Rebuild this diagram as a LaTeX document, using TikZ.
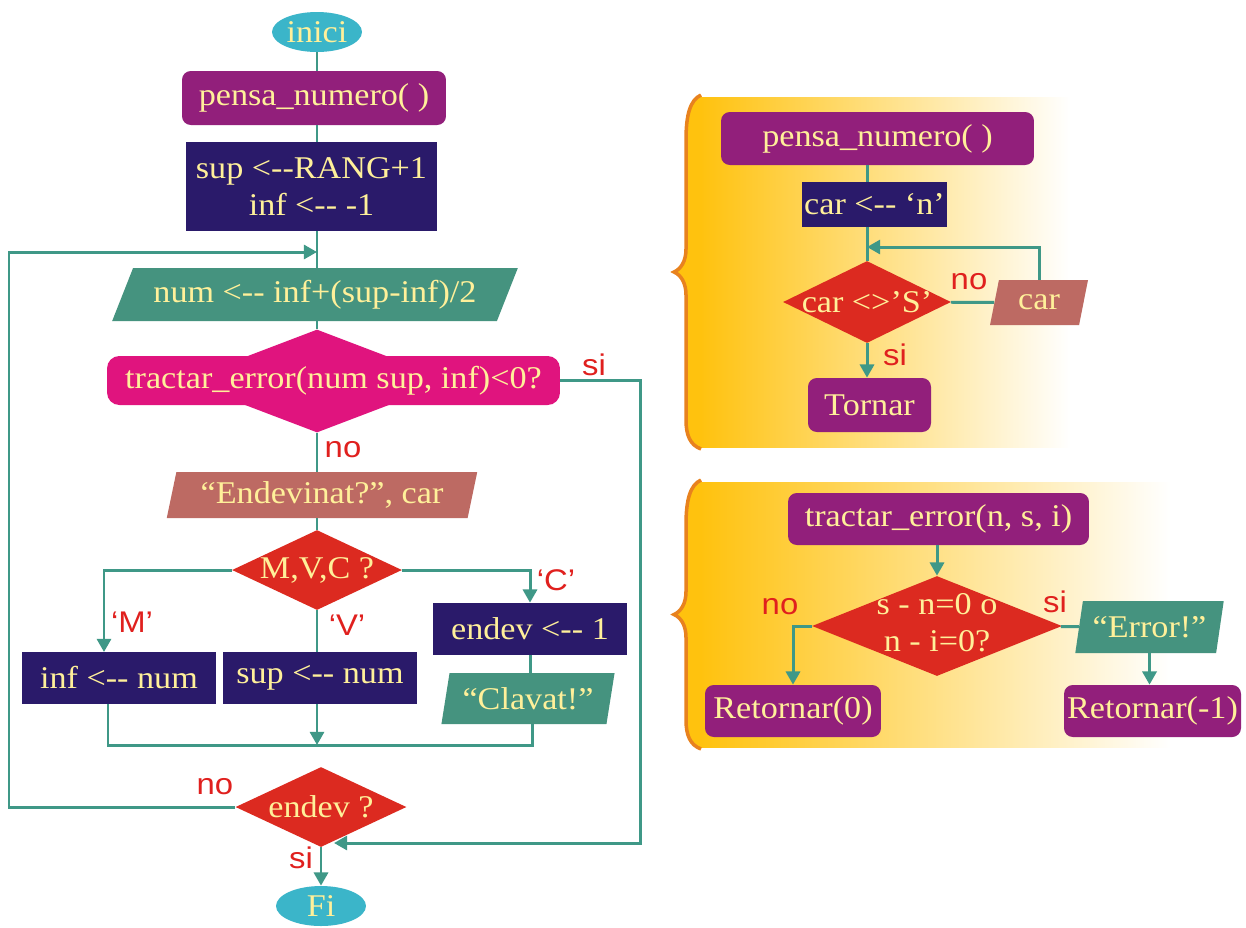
\documentclass[tikz,border=0pt]{standalone}
\usepackage{fontspec}
\setmainfont{Liberation Serif}[FakeStretch=1.08]
\newfontfamily\labfont{Liberation Sans}[FakeStretch=1.1]
\usetikzlibrary{shapes.geometric,arrows.meta}
\definecolor{cyanfill}{HTML}{3BB5C9}
\definecolor{purplefill}{HTML}{921F7B}
\definecolor{navyfill}{HTML}{2A1A6A}
\definecolor{tealfill}{HTML}{45937F}
\definecolor{magfill}{HTML}{E0147E}
\definecolor{salmonfill}{HTML}{BD6A63}
\definecolor{redfill}{HTML}{DC2A20}
\definecolor{txtyellow}{HTML}{FFF09A}
\definecolor{linecol}{HTML}{3F9887}
\definecolor{labred}{HTML}{E0201E}
\definecolor{bracecol}{HTML}{E8821E}
\definecolor{panelcol}{HTML}{FFC20E}
\newcommand\lassign{<-{}-}
\tikzset{
  box/.style={draw=none, fill=navyfill, text=txtyellow, inner sep=1pt, align=center,
    font=\fontsize{18}{21}\selectfont},
  proc/.style={box, fill=purplefill, rounded corners=5pt},
  io/.style={box, trapezium, trapezium stretches=true, trapezium left angle=75,
    trapezium right angle=105},
  cond/.style={box, diamond, fill=redfill, inner sep=0pt},
  term/.style={box, ellipse, fill=cyanfill, inner sep=0pt},
  flow/.style={draw=linecol, line width=1.7pt},
  lab/.style={text=labred, font=\labfont\fontsize{17}{19}\selectfont, inner sep=0pt}
}
\begin{document}
\begin{tikzpicture}[x=0.02cm, y=-0.02cm, >={Triangle[length=7.5pt,width=8pt]}]
        \fill[white] (0,0) rectangle (1246,927);
        \useasboundingbox (0,0) rectangle (1246,927);
        \foreach \t/\b/\r in {97/447/1070,482/747/1170}{
            \pgfmathsetmacro\m{(\t+\b)/2}
            \shade[left color=panelcol, right color=white] (700,\t) rectangle (\r,\b);
            \fill[panelcol] (701,\t-2) .. controls (690,\t+3) and (686,\t+18) .. (686,\t+43)
                -- (686,\m-23) .. controls (686,\m-11) and (681,\m-3) .. (674,\m)
                .. controls (681,\m+3) and (686,\m+11) .. (686,\m+23)
                -- (686,\b-27) .. controls (686,\b-12) and (690,\b-2) .. (701,\b+2) -- cycle;
            \draw[bracecol, line width=2pt] (701,\t-2) .. controls (690,\t+3) and (686,\t+18) .. (686,\t+43)
                -- (686,\m-23) .. controls (686,\m-11) and (681,\m-3) .. (674,\m)
                .. controls (681,\m+3) and (686,\m+11) .. (686,\m+23)
                -- (686,\b-27) .. controls (686,\b-12) and (690,\b-2) .. (701,\b+2);
        }
        \node[term, minimum width=1.8cm, minimum height=0.8cm] (inici) at (317,32) {inici};
        \node[proc, minimum width=5.28cm, minimum height=1.08cm] (pn) at (314,98) {pensa\_numero( )};
        \node[box, minimum width=5.02cm, minimum height=1.78cm] (ini) at (311.5,186.5) {sup \lassign RANG+1\\inf \lassign{} -1};
        \node[io, trapezium left angle=60, trapezium right angle=120, fill=tealfill,
            minimum width=8.12cm, minimum height=1.06cm] (num) at (315,294.5) {num \lassign{} inf+(sup-inf)/2};
        \node[cond, fill=magfill, minimum width=5.4cm, minimum height=2.06cm] (tbk) at (317,381) {};
        \node[box, fill=magfill, rounded corners=7pt, minimum width=9.06cm, minimum height=0.98cm] (te) at (333.5,380.5) {tractar\_error(num sup, inf)<0?};
        \node[io, fill=salmonfill, minimum width=6.22cm, minimum height=0.92cm] (ask) at (322,495) {“Endevinat?”, car};
        \node[cond, minimum width=3.4cm, minimum height=1.6cm] (mvc) at (317,570) {\makebox[0pt]{M,V,C ?}};
        \node[box, minimum width=3.88cm, minimum height=1.04cm] (inf) at (119,678) {inf \lassign{} num};
        \node[box, minimum width=3.88cm, minimum height=1.04cm] (sup) at (320,678) {sup \lassign{} num};
        \node[box, minimum width=3.88cm, minimum height=1.04cm] (endv) at (530,629) {endev \lassign{} 1};
        \node[io, fill=tealfill, minimum width=3.48cm, minimum height=1.02cm] (clav) at (528,698.5) {“Clavat!”};
        \node[cond, minimum width=3.42cm, minimum height=1.6cm] (edv) at (321,807) {\makebox[0pt]{endev ?}};
        \node[term, minimum width=1.8cm, minimum height=0.8cm] (fi) at (321,906) {Fi};
        \coordinate (mL) at (104,652);
        \coordinate (jL) at (108,745);
        \coordinate (jR) at (532,745);
        \coordinate (lc) at (9,252);
        \coordinate (la) at (317,252);
        \coordinate (rc) at (640,843);
        \coordinate (siE) at (334,843);
        \draw[flow] (inici) -- (inici |- pn.north);
        \draw[flow] (pn.south -| inici) -- (ini.north -| inici);
        \draw[flow] (ini.south -| inici) -- (num.north -| inici);
        \draw[flow] (num.south -| inici) -- (tbk);
        \draw[flow] (tbk) -- (tbk |- ask.north);
        \draw[flow] (ask.south -| inici) -- (mvc);
        \draw[flow,->] (mvc.west) -| (mL);
        \draw[flow] (mvc) -- (mvc |- sup.north);
        \draw[flow,->] (mvc.east) -| (endv.north);
        \draw[flow] (endv) -- (endv |- clav.north);
        \draw[flow] (inf.south -| jL) -- (jL) -- (jR) -- (clav.south -| jR);
        \draw[flow,->] (sup.south -| inici) -- (inici |- jL);
        \draw[flow,->] (edv.west) -| (lc) -- (la);
        \draw[flow,->] (te.east) -| (rc) -- (siE);
        \draw[flow,->] (edv) -- (fi);
        \node[lab] (siT) at (594,365) {si};
        \node[lab] (noT) at (343,450) {no};
        \node[lab] (lM) at (132,622) {‘M’};
        \node[lab] (lV) at (347,625) {‘V’};
        \node[lab] (lC) at (556,580) {‘C’};
        \node[lab] (noE) at (215,787) {no};
        \node[lab] (siF) at (301,858) {si};
        \node[proc, minimum width=6.26cm, minimum height=1.06cm] (pn2) at (877.5,138.5) {pensa\_numero( )};
        \node[box, minimum width=2.9cm, minimum height=0.9cm] (car) at (874.5,204.5) {car \lassign{} ‘n’};
        \node[cond, minimum width=3.36cm, minimum height=1.64cm] (cmp) at (867,302) {\makebox[0pt]{car <>’S’}};
        \node[io, fill=salmonfill, minimum width=1.96cm, minimum height=0.9cm] (cin) at (1039,302.5) {car};
        \node[proc, minimum width=2.46cm, minimum height=1.08cm] (ret) at (869.5,405) {Tornar};
        \coordinate (lp1) at (867,247);
        \draw[flow] (pn2.south -| cmp) -- (car.north -| cmp);
        \draw[flow] (car.south -| cmp) -- (cmp);
        \draw[flow] (cmp) -- (cin);
        \draw[flow,->] (cin.north) |- (lp1);
        \draw[flow,->] (cmp) -- (cmp |- ret.north);
        \node[lab] (noC) at (969,282) {no};
        \node[lab] (siC) at (895,355) {si};
        \node[proc, minimum width=6.02cm, minimum height=1.04cm] (te2) at (938.5,519) {tractar\_error(n, s, i)};
        \node[cond, minimum width=5cm, minimum height=2cm] (chk) at (937,626) {\makebox[0pt]{\begin{tabular}{@{}c@{}}s - n=0 o\\n - i=0?\end{tabular}}};
        \node[proc, minimum width=3.52cm, minimum height=1.04cm] (r0) at (793,711) {Retornar(0)};
        \node[io, fill=tealfill, minimum width=2.98cm, minimum height=1.04cm] (err) at (1149.5,627) {“Error!”};
        \node[proc, minimum width=3.54cm, minimum height=1.04cm] (r1) at (1152.5,711) {Retornar(-1)};
        \draw[flow,->] (te2.south -| chk) -- (chk);
        \draw[flow,->] (chk.west) -| (r0.north);
        \draw[flow] (chk) -- (err);
        \draw[flow,->] (err.south) -- (err.south |- r1.north);
        \node[lab] (noD) at (780,607) {no};
        \node[lab] (siD) at (1055,602) {si};
\end{tikzpicture}
\end{document}
